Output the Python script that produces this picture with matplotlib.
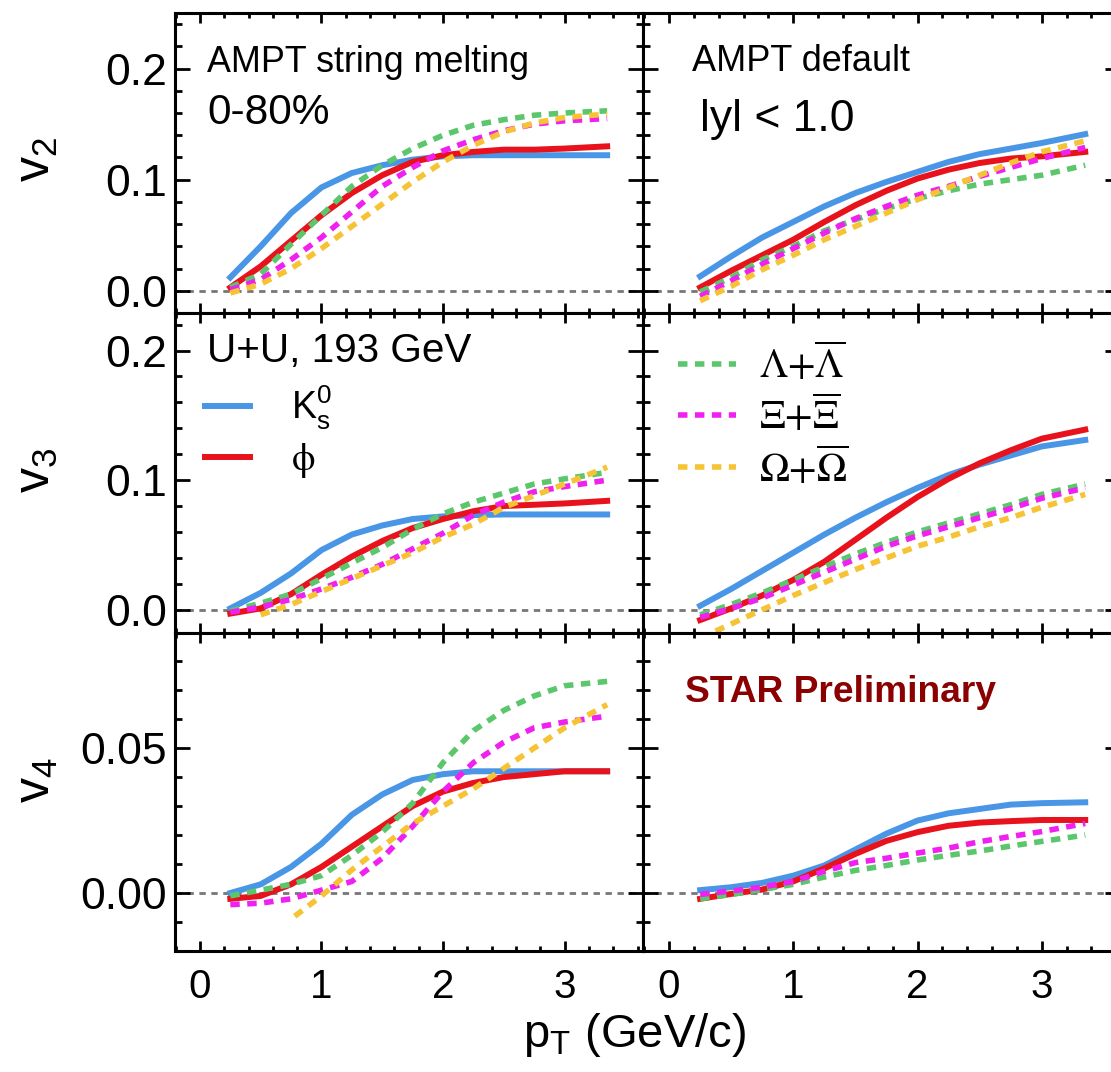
import matplotlib.pyplot as plt
from matplotlib.ticker import MultipleLocator, FormatStrFormatter

plt.rcParams['font.family'] = ['Liberation Sans', 'DejaVu Sans']

# pT grid (GeV/c) shared by most curves
pt = [0.25, 0.5, 0.75, 1.0, 1.25, 1.5, 1.75, 2.0, 2.25, 2.5, 2.75, 3.0, 3.35]

# v2, AMPT string melting
sm_v2_k0s = [0.012, 0.040, 0.070, 0.093, 0.106, 0.113, 0.118, 0.121, 0.122, 0.122, 0.122, 0.122, 0.122]
sm_v2_phi = [0.003, 0.022, 0.045, 0.068, 0.088, 0.104, 0.116, 0.122, 0.125, 0.127, 0.127, 0.128, 0.130]
sm_v2_lam = [0.003, 0.015, 0.042, 0.068, 0.094, 0.113, 0.128, 0.140, 0.149, 0.154, 0.158, 0.160, 0.162]
sm_v2_xi = [0.001, 0.010, 0.028, 0.048, 0.071, 0.094, 0.111, 0.126, 0.136, 0.144, 0.150, 0.153, 0.155]
sm_v2_om = [-0.002, 0.006, 0.020, 0.038, 0.058, 0.078, 0.098, 0.116, 0.131, 0.143, 0.151, 0.156, 0.159]

# v2, AMPT default
df_v2_k0s = [0.013, 0.031, 0.048, 0.062, 0.076, 0.088, 0.098, 0.107, 0.116, 0.123, 0.128, 0.133, 0.141]
df_v2_phi = [0.003, 0.018, 0.032, 0.046, 0.062, 0.077, 0.090, 0.101, 0.109, 0.115, 0.119, 0.121, 0.125]
df_v2_lam = [-0.001, 0.012, 0.028, 0.040, 0.054, 0.064, 0.074, 0.083, 0.090, 0.096, 0.100, 0.104, 0.113]
df_v2_xi = [-0.005, 0.009, 0.024, 0.038, 0.052, 0.065, 0.076, 0.086, 0.094, 0.103, 0.111, 0.119, 0.129]
df_v2_om = [-0.009, 0.004, 0.019, 0.032, 0.046, 0.058, 0.070, 0.082, 0.093, 0.104, 0.115, 0.125, 0.135]

# v3, AMPT string melting
sm_v3_k0s = [0.001, 0.013, 0.028, 0.046, 0.058, 0.065, 0.070, 0.072, 0.073, 0.0735, 0.0735, 0.0735, 0.0735]
sm_v3_phi = [-0.003, 0.001, 0.012, 0.027, 0.041, 0.053, 0.063, 0.070, 0.076, 0.080, 0.081, 0.082, 0.084]
sm_v3_lam = [-0.001, 0.005, 0.012, 0.024, 0.036, 0.048, 0.062, 0.074, 0.083, 0.090, 0.097, 0.101, 0.106]
sm_v3_xi = [-0.002, 0.002, 0.008, 0.016, 0.025, 0.035, 0.047, 0.059, 0.073, 0.083, 0.091, 0.095, 0.100]
pt_sm_v3_om = [0.5, 0.75, 1.0, 1.25, 1.5, 1.75, 2.0, 2.25, 2.5, 2.75, 3.0, 3.35]
sm_v3_om = [-0.004, 0.004, 0.014, 0.024, 0.034, 0.044, 0.056, 0.066, 0.079, 0.088, 0.097, 0.110]

# v3, AMPT default
df_v3_k0s = [0.003, 0.016, 0.030, 0.044, 0.058, 0.071, 0.083, 0.094, 0.104, 0.112, 0.119, 0.126, 0.131]
df_v3_phi = [-0.008, 0.001, 0.011, 0.023, 0.037, 0.054, 0.071, 0.087, 0.101, 0.113, 0.123, 0.132, 0.139]
df_v3_lam = [-0.004, 0.004, 0.013, 0.023, 0.033, 0.043, 0.052, 0.060, 0.067, 0.074, 0.081, 0.089, 0.097]
df_v3_xi = [-0.006, 0.001, 0.009, 0.019, 0.029, 0.039, 0.049, 0.057, 0.064, 0.071, 0.078, 0.086, 0.094]
df_v3_om = [-0.022, -0.011, 0.000, 0.011, 0.021, 0.031, 0.040, 0.049, 0.056, 0.064, 0.071, 0.079, 0.089]

# v4, AMPT string melting
sm_v4_k0s = [0.000, 0.003, 0.009, 0.017, 0.027, 0.034, 0.039, 0.041, 0.042, 0.042, 0.042, 0.042, 0.042]
sm_v4_phi = [-0.002, -0.001, 0.003, 0.009, 0.016, 0.023, 0.030, 0.035, 0.038, 0.040, 0.041, 0.042, 0.042]
sm_v4_lam = [-0.001, 0.001, 0.003, 0.006, 0.013, 0.021, 0.031, 0.045, 0.056, 0.063, 0.068, 0.0715, 0.073]
sm_v4_xi = [-0.004, -0.0035, -0.002, 0.001, 0.004, 0.012, 0.023, 0.035, 0.045, 0.052, 0.057, 0.059, 0.061]
pt_sm_v4_om = [0.78, 1.0, 1.25, 1.5, 1.75, 2.0, 2.25, 2.5, 2.75, 3.0, 3.35]
sm_v4_om = [-0.008, -0.001, 0.008, 0.016, 0.024, 0.030, 0.036, 0.043, 0.050, 0.057, 0.065]

# v4, AMPT default
df_v4_k0s = [0.001, 0.002, 0.0035, 0.006, 0.0095, 0.015, 0.0205, 0.025, 0.0275, 0.029, 0.0305, 0.031, 0.0313]
df_v4_phi = [-0.002, -0.0003, 0.0012, 0.004, 0.0085, 0.0135, 0.018, 0.021, 0.0232, 0.0243, 0.0248, 0.0252, 0.0252]
df_v4_lam = [-0.002, -0.0005, 0.0012, 0.003, 0.0055, 0.0078, 0.0095, 0.0114, 0.013, 0.0145, 0.0162, 0.0178, 0.020]
df_v4_xi = [-0.0005, 0.0007, 0.002, 0.004, 0.0075, 0.0105, 0.012, 0.0138, 0.0155, 0.0177, 0.0195, 0.0212, 0.024]

c_k0s, c_phi = '#4a96e6', '#e8121c'
c_lam, c_xi, c_om = '#5cc66c', '#f020f0', '#f6c334'

W, H = 1111, 1072
fig = plt.figure(figsize=(W / 100, H / 100), dpi=100)

rows_px = [(13, 313), (313, 633), (633, 951)]
cols_px = [(175, 643), (643, 1120)]
xlims = [(-0.205, 3.645), (-0.21, 3.63)]
ylims = [(-0.02, 0.25), (-0.018, 0.229), (-0.02, 0.0897)]
ymajor = [0.1, 0.1, 0.05]
yminor = [0.02, 0.02, 0.01]
yfmt = ['%.1f', '%.1f', '%.2f']

panels = [
    [(sm_v2_k0s, sm_v2_phi, sm_v2_lam, sm_v2_xi, pt, sm_v2_om),
     (df_v2_k0s, df_v2_phi, df_v2_lam, df_v2_xi, pt, df_v2_om)],
    [(sm_v3_k0s, sm_v3_phi, sm_v3_lam, sm_v3_xi, pt_sm_v3_om, sm_v3_om),
     (df_v3_k0s, df_v3_phi, df_v3_lam, df_v3_xi, pt, df_v3_om)],
    [(sm_v4_k0s, sm_v4_phi, sm_v4_lam, sm_v4_xi, pt_sm_v4_om, sm_v4_om),
     (df_v4_k0s, df_v4_phi, df_v4_lam, df_v4_xi, None, None)],
]

dash = (1.7, 1.35)
axes = [[None, None] for _ in range(3)]
for r, (y0, y1) in enumerate(rows_px):
    for c, (x0, x1) in enumerate(cols_px):
        ax = fig.add_axes([x0 / W, 1 - y1 / H, (x1 - x0) / W, (y1 - y0) / H])
        axes[r][c] = ax
        k0s, phi, lam, xi, pt_om, om = panels[r][c]
        ax.axhline(0, color='#777777', lw=2.0, dashes=(2.3, 2.0), zorder=1)
        ax.plot(pt, k0s, color=c_k0s, lw=4.3, label=r'$\mathregular{K^0_s}$')
        ax.plot(pt, phi, color=c_phi, lw=4.3, label=r'$\mathrm{\phi}$')
        ax.plot(pt, lam, color=c_lam, lw=4, dashes=dash,
                label=r'$\mathrm{\Lambda{+}\overline{\Lambda}}$')
        ax.plot(pt, xi, color=c_xi, lw=4, dashes=dash,
                label=r'$\mathrm{\Xi{+}\overline{\Xi}}$')
        if om is not None:
            ax.plot(pt_om, om, color=c_om, lw=4, dashes=dash,
                    label=r'$\mathrm{\Omega{+}\overline{\Omega}}$')
        ax.set_xlim(*xlims[c])
        ax.set_ylim(*ylims[r])
        ax.xaxis.set_major_locator(MultipleLocator(1))
        ax.xaxis.set_minor_locator(MultipleLocator(0.2))
        ax.yaxis.set_major_locator(MultipleLocator(ymajor[r]))
        ax.yaxis.set_minor_locator(MultipleLocator(yminor[r]))
        ax.yaxis.set_major_formatter(FormatStrFormatter(yfmt[r]))
        for s in ax.spines.values():
            s.set_linewidth(2.2)
        ax.tick_params(which='both', direction='in', top=True, right=True, width=2)
        ax.tick_params(axis='y', which='major', length=11, labelsize=32, pad=6)
        ax.tick_params(axis='y', which='minor', length=5)
        ax.tick_params(axis='x', which='major', length=7.5, labelsize=29, pad=12)
        ax.tick_params(axis='x', which='minor', length=3.5)
        if c == 1:
            ax.tick_params(labelleft=False)
        if r < 2:
            ax.tick_params(labelbottom=False)

# legends in the middle row
h, l = axes[1][0].get_legend_handles_labels()
leg1 = axes[1][0].legend(h[:2], l[:2], loc='center left',
                         bbox_to_anchor=(205 / W, 1 - 432 / H), bbox_transform=fig.transFigure,
                         frameon=False, fontsize=27, borderpad=0, borderaxespad=0,
                         handlelength=1.2, handletextpad=1.1, labelspacing=0.25)
leg1.get_texts()[1].set_math_fontfamily('stix')

h, l = axes[1][1].get_legend_handles_labels()
leg2 = axes[1][1].legend(h[2:], l[2:], loc='center left',
                         bbox_to_anchor=(678 / W, 1 - 416 / H), bbox_transform=fig.transFigure,
                         frameon=False, fontsize=29, borderpad=0, borderaxespad=0,
                         handlelength=1.45, handletextpad=0.55, labelspacing=0.2)
for t in leg2.get_texts():
    t.set_math_fontfamily('stix')

# panel annotations
fig.text(207 / W, 1 - 72 / H, 'AMPT string melting', fontsize=25.8, va='baseline')
fig.text(207 / W, 1 - 124 / H, '0-80%', fontsize=30.5, va='baseline')
fig.text(692 / W, 1 - 71 / H, 'AMPT default', fontsize=26, va='baseline')
fig.text(700 / W, 1 - 131 / H, 'lyl < 1.0', fontsize=32, va='baseline')
fig.text(207 / W, 1 - 362 / H, 'U+U, 193 GeV', fontsize=29.2, va='baseline')
fig.text(685 / W, 1 - 702 / H, 'STAR Preliminary', fontsize=26.7, fontweight='bold',
         color='#8b0000', va='baseline')

# axis titles
for y_px, name in [(159, r'$\mathregular{v_2}$'), (470, r'$\mathregular{v_3}$'),
                   (780, r'$\mathregular{v_4}$')]:
    fig.text(37 / W, 1 - y_px / H, name, fontsize=36, rotation=90, ha='center', va='center')
fig.text(635 / W, 1 - 1047 / H, r'$\mathregular{p_T}$ (GeV/c)', fontsize=34,
         ha='center', va='baseline')

fig.savefig('out.png', dpi=100)
